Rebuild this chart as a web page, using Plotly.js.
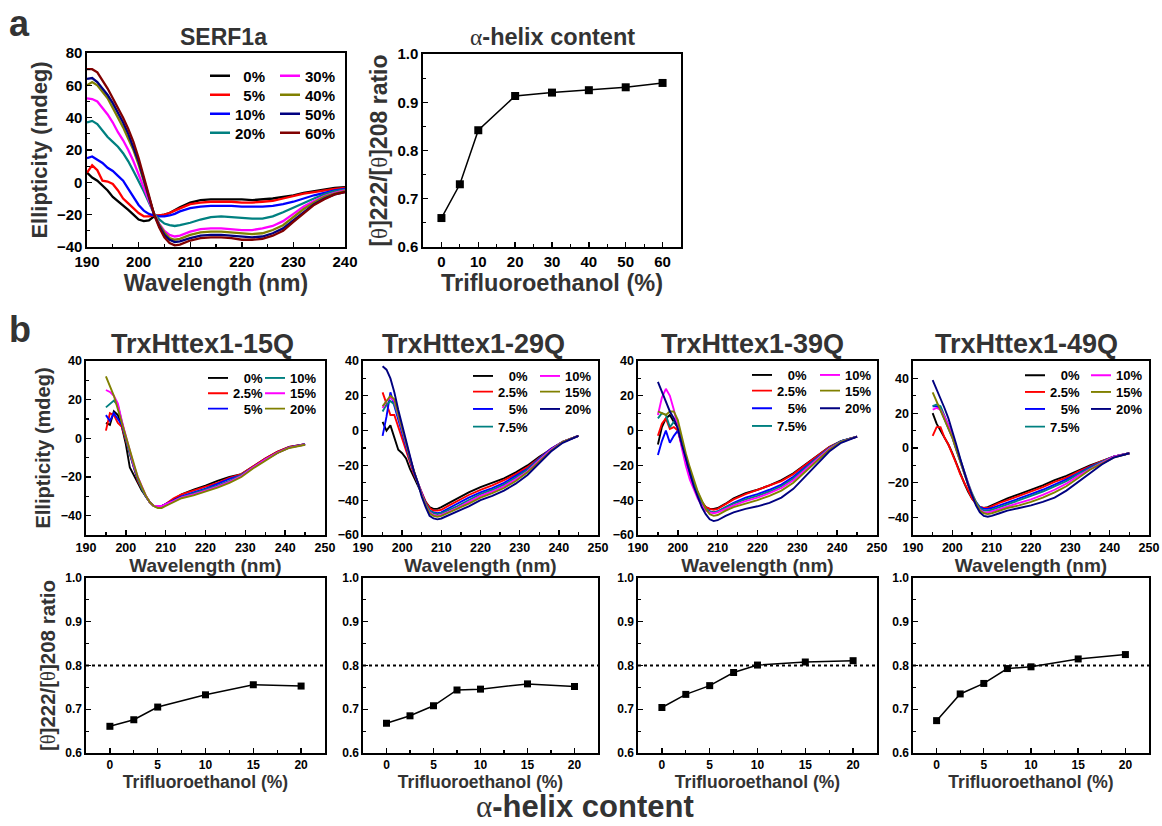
<!DOCTYPE html>
<html><head><meta charset="utf-8">
<script src="https://cdn.plot.ly/plotly-3.0.1.min.js"></script>
<style>html,body{margin:0;padding:0;background:#fff}#chart{width:1162px;height:826px}</style>
</head><body><div id="chart"></div>
<script>
// ---------------- DATA ----------------
// Panel a: SERF1a CD spectra
const serfWavelength = [190,191,192,193,194,195,196,197,198,199,200,201,202,203,204,205,206,207,208,210,212,214,216,218,220,222,224,226,228,230,232,234,236,238,240];
const serf_0  = [6,3,1,-2,-5,-9,-11.5,-14,-17,-20,-23,-24,-23.5,-21,-20.5,-20,-19,-17,-15.5,-12.5,-11,-10.5,-10.5,-10.5,-10.5,-11,-10.5,-10,-9,-8,-6.5,-5.5,-4.5,-3.5,-3];
const serf_5  = [6,10.5,7.5,1,0.5,-1,-5,-10,-13,-16,-19,-21,-21,-20.5,-20.5,-20,-19,-17.5,-16,-13.5,-12.5,-12,-12,-12,-12.5,-12.5,-12,-11.5,-10,-8.5,-7,-6,-5,-4,-3.5];
const serf_10 = [15,16,14,12,9,7,4,1,-4,-9,-14,-17.5,-19.5,-20.5,-21,-21,-20.5,-19.5,-18,-16,-15,-14.5,-14.5,-14.5,-15,-15,-15,-14.5,-13.5,-12,-10,-8,-6.5,-5,-4];
const serf_20 = [37,38,36,32,28,25,22,18,13,7,1,-5.5,-12.5,-19.5,-23,-25.5,-26.5,-27,-26.5,-25,-23,-21.5,-21,-21.5,-22,-22.5,-22.5,-21,-18.5,-15.5,-12.5,-10,-7.5,-5.5,-4.5];
const serf_30 = [52,51.5,50,46,42,37,31,26,20,13,5,-3,-11,-19.5,-25.5,-30,-32.5,-33.5,-33,-30.5,-29,-28.5,-28.5,-29,-29.5,-29.5,-28.5,-27,-24,-19.5,-15,-11.5,-8.5,-6.5,-5];
const serf_40 = [60,62,60,56,52,46,40,34,27,20,11,1,-9,-19.5,-26,-31,-34.5,-35.5,-35,-32.5,-31,-30.5,-30.5,-31,-31.5,-32,-31.5,-29.5,-26.5,-21.5,-16.5,-12.5,-9,-7,-5.5];
const serf_50 = [64,64.5,62,58,54,49,43,37,30,22,13,2,-9,-20,-27,-32.5,-35.5,-37,-36.5,-34.5,-33,-32.5,-32.5,-33,-33.5,-34,-33.5,-31.5,-28.5,-23.5,-18,-13.5,-10,-7.5,-6];
const serf_60 = [70,70,68,63,58,52,46,40,33,25,15,4,-8,-20,-28,-34,-37.5,-39,-38.5,-36,-34.5,-34,-34,-34.5,-35.5,-35.5,-35,-33,-30,-24.5,-19,-14,-10.5,-7.5,-6];
const serfLabels = ['0%','5%','10%','20%','30%','40%','50%','60%'];
const serfTFE   = [0,5,10,20,30,40,50,60];
const serfRatio = [0.66,0.73,0.842,0.913,0.92,0.925,0.931,0.94];

// Panel b: TrxHttex1 CD spectra
const httWavelength = [195,196,197,198,199,200,201,202,203,204,205,206,207,208,209,210,212,214,217,220,223,226,229,232,235,238,241,245];
const q15_0   = [8,7,14,12,6,-3,-15,-19,-23,-27,-30,-33,-35,-35.5,-35,-34,-31.5,-29,-26.5,-24.5,-22,-20,-18.5,-14.5,-10.5,-7,-4.5,-3];
const q15_2p5 = [4,13,12,8,6,-1,-9,-16,-22,-26,-30,-33,-35,-35.5,-35,-34,-31,-29,-27,-25,-23,-20.5,-18.5,-14.5,-10.5,-7,-4.5,-3];
const q15_5   = [12,9,13,10,7,0,-8,-15,-21,-26,-30,-33,-35,-35.5,-35,-34,-32,-30,-28,-26,-23.5,-21,-19,-15,-11,-7.5,-4.7,-3];
const q15_10  = [16,18,19.5,17,8,0,-8,-15,-21,-26,-30,-33,-35,-35.5,-35,-34.5,-32.5,-30.5,-28.5,-26.5,-24.5,-22,-19,-15,-11,-7.5,-4.8,-3.2];
const q15_15  = [25,24,22,18,9,1,-7,-14,-20,-25,-29.5,-33,-35,-35,-35,-34,-32.5,-30.5,-29,-27,-25,-22.5,-19.5,-15,-11,-7.5,-4.8,-3.2];
const q15_20  = [32,27,22,15,8,1,-7,-14,-20,-25,-29.5,-33,-35,-36,-36,-35,-33,-31,-29.5,-27.5,-25.5,-23,-20,-15.5,-11.5,-7.7,-5,-3.3];

const q29_0   = [5,0,3,-4,-11,-13,-16,-22,-27,-32,-37,-41,-44,-45,-45,-44,-41.5,-39,-35.5,-32.5,-30,-27.5,-24,-20,-15,-10.5,-6.5,-3];
const q29_2p5 = [22,15,9,9,2,-5,-12,-19,-25,-30,-36,-41,-44.5,-46,-46,-45.5,-43,-40.5,-37,-34,-31.5,-28.5,-25,-21,-15.5,-10.5,-6.5,-3];
const q29_5   = [-3,8,22,14,6,-1,-9,-17,-24,-30,-37,-42,-46,-47,-47.5,-47,-44.5,-42,-38.5,-35.5,-33,-30,-26,-22,-16,-10.5,-6.5,-3];
const q29_7p5 = [11,15,17,15,8,0,-8,-16,-23.5,-30,-37,-42,-46,-47.5,-48,-47.5,-45.5,-43.5,-40,-36.5,-34,-31,-27,-22.5,-16.5,-11,-6.5,-3];
const q29_10  = [13,17,19,17,9,1,-7,-16,-23.5,-30,-37,-43,-47,-48.5,-49,-48.5,-46.5,-44.5,-41,-37.5,-35,-32,-28,-23.5,-17,-11,-6.5,-3];
const q29_15  = [14,17,20,18,10,2,-7,-16,-23.5,-30,-37,-43,-47.5,-49,-49.5,-49,-47,-45,-42,-38.5,-36,-33,-29,-24,-17.5,-11.5,-6.5,-3];
const q29_20  = [37,35,30,22,12,3,-6,-15,-23.5,-30,-38,-44,-49,-50.5,-51,-50.5,-48.5,-46.5,-43.5,-40,-37.5,-34.5,-30.5,-25.5,-18.5,-12,-7,-3];

const q39_0   = [-8,2,7,9,5,2,-8,-17,-25,-31,-37,-41,-44,-45,-45,-44.5,-42,-39,-36,-34,-31.5,-28.5,-24.5,-19.5,-14.5,-9.5,-6,-3.5];
const q39_2p5 = [-3,4,7,1,2,0,-9,-17,-25,-31,-37,-41,-44,-45,-45.5,-45,-42,-39.5,-36.5,-34,-31.5,-29,-25,-20,-14.5,-9.5,-6,-3.5];
const q39_5   = [-14,-6,0,-7,-3,0,-8,-17,-25,-32,-38,-42,-45,-46.5,-47,-46.5,-44,-41.5,-38.5,-36.5,-34,-31,-26.5,-21,-15,-10,-6,-3.5];
const q39_7p5 = [7,10,9,2,5,4,-6,-15,-23,-30,-36,-41,-45,-46.5,-47,-46.5,-44,-42,-39.5,-37.5,-35,-32,-27.5,-21.5,-15.5,-10,-6,-3.5];
const q39_10  = [9,19,24,20,12,2,-10,-20,-28,-34,-39,-43,-46,-47,-47.5,-47,-45,-43,-40.5,-38.5,-36,-33,-28.5,-22.5,-16,-10.5,-6.5,-3.5];
const q39_15  = [11,10,9,11,11,6,-4,-13,-21,-28,-35,-40,-45,-48,-49,-48.5,-46,-44,-42,-40,-37.5,-34.5,-30,-23.5,-17,-11,-6.5,-3.5];
const q39_20  = [28,22,16,11,7,1,-8,-16,-24,-32,-38,-44,-48,-51,-52,-51.5,-49,-47,-45,-43.5,-41.5,-38.5,-33.5,-26.5,-19,-12,-7,-3.5];

const q49_0   = [20,14,10,6,2,-3,-9,-15,-20,-25,-29,-32,-34,-34.5,-34,-33,-31,-29,-26.5,-24,-21.5,-18.5,-16,-13,-10,-7.5,-5,-3];
const q49_2p5 = [7,12,12,6,2,-3,-9,-15,-20,-25,-29,-32,-34,-34.5,-34.5,-33.5,-31.5,-30,-27.5,-25,-22.5,-19.5,-17,-13.5,-10.5,-7.5,-5,-3];
const q49_5   = [24,24,22,17,12,6,-1,-8,-15,-21,-27,-31,-34,-35,-35,-34.5,-33,-31.5,-29,-26.5,-24,-21,-18,-14.5,-11,-8,-5,-3];
const q49_7p5 = [24,25,24,19,13,7,0,-7,-14,-20,-26,-31,-34.5,-36,-36,-35.5,-34,-32.5,-30,-27.5,-25,-22,-19,-15,-11.5,-8,-5,-3];
const q49_10  = [22,23,22,18,13,7,0,-7,-14,-21,-27,-32,-35.5,-37,-37,-36.5,-35,-33.5,-31.5,-29.5,-27,-24,-20.5,-16,-12,-8.5,-5,-3];
const q49_15  = [32,27,22,17,12,6,-1,-8,-15,-21,-27,-32,-36,-37.5,-38,-37.5,-36,-34.5,-33,-31,-28.5,-25.5,-22,-17,-12.5,-9,-5.5,-3];
const q49_20  = [39,34,29,23,17,10,2,-6,-14,-21,-27,-33,-37,-39,-39.5,-39,-37.5,-36,-34.5,-33,-31,-28.5,-24.5,-19.5,-14,-9.5,-5.5,-3];

const q15Labels = ['0%','2.5%','5%','10%','15%','20%'];
const qLabels   = ['0%','2.5%','5%','7.5%','10%','15%','20%'];

const q15TFE = [0,2.5,5,10,15,20];
const qTFE   = [0,2.5,5,7.5,10,15,20];
const q15Ratio = [0.661,0.676,0.705,0.733,0.756,0.753];
const q29Ratio = [0.668,0.685,0.708,0.744,0.746,0.758,0.752];
const q39Ratio = [0.704,0.734,0.754,0.784,0.801,0.808,0.811];
const q49Ratio = [0.674,0.735,0.759,0.793,0.797,0.815,0.825];
const ratioThreshold = 0.8;

const panelTitles = ['SERF1a','TrxHttex1-15Q','TrxHttex1-29Q','TrxHttex1-39Q','TrxHttex1-49Q'];

// ---------------- STYLE / LAYOUT ----------------
const W = 1162, H = 826;
const FONT = '"Liberation Sans", Arial, sans-serif';
const C = {black:'#000000', red:'#ff0000', blue:'#0000ff', teal:'#008080', magenta:'#ff00ff', olive:'#808000', navy:'#000080', wine:'#800000'};
const serfColors = [C.black,C.red,C.blue,C.teal,C.magenta,C.olive,C.navy,C.wine];
const q15Colors  = [C.black,C.red,C.blue,C.teal,C.magenta,C.olive];
const qColors    = [C.black,C.red,C.blue,C.teal,C.magenta,C.olive,C.navy];
const TITLE_COL = '#333333';

const traces = [];
const layout = {
  width: W, height: H, margin: {l:0, r:0, t:0, b:0},
  paper_bgcolor: '#ffffff', plot_bgcolor: '#ffffff',
  font: {family: FONT, color: '#000'},
  showlegend: true, annotations: [], shapes: []
};

function mkAxis(p0, p1, isX, range, dtick, minorDtick, tickSize, fmt, anchor) {
  const dom = isX ? [p0 / W, p1 / W] : [1 - p1 / H, 1 - p0 / H];
  const ax = {
    domain: dom, range: range, autorange: false, anchor: anchor,
    showline: true, linecolor: '#000', linewidth: 1.6, mirror: true,
    ticks: 'inside', ticklen: 5, tickwidth: 1.4, tickcolor: '#000',
    tick0: 0, dtick: dtick,
    minor: {ticks: 'inside', ticklen: 3, tickwidth: 1.2, tickcolor: '#000', dtick: minorDtick, tick0: 0},
    showgrid: false, zeroline: false, fixedrange: true,
    tickfont: {family: FONT, size: tickSize, weight: 'bold', color: '#000'}
  };
  if (fmt) ax.tickformat = fmt;
  return ax;
}
function axTitle(text, size, standoff) {
  return {text: text, font: {family: FONT, size: size, weight: 'bold', color: TITLE_COL}, standoff: standoff};
}
const thetaTitle = '[<span style="font-family:Liberation Serif;font-weight:normal">θ</span>]222/[<span style="font-family:Liberation Serif;font-weight:normal">θ</span>]208 ratio';
const alphaText = '<span style="font-family:Liberation Serif;font-weight:normal">α</span>-helix content';

// Panel geometry (pixels)
const aLeft  = {x:[87,345],  y:[53,247]};
const aRight = {x:[423,681], y:[54,247]};
const bCols  = [[86,325],[363,598],[638,877],[913,1149]];
const bTopY  = [361,535];
const bBotY  = [578,753];

// axes 1: SERF1a spectra
layout.xaxis  = mkAxis(aLeft.x[0], aLeft.x[1], true,  [190,240], 10, 5, 15, null, 'y');
layout.yaxis  = mkAxis(aLeft.y[0], aLeft.y[1], false, [-40,80], 20, 10, 15, null, 'x');
layout.xaxis.title = axTitle('Wavelength (nm)', 23, 0);
layout.yaxis.title = axTitle('Ellipticity (mdeg)', 22, 3);
// axes 2: SERF1a ratio
layout.xaxis2 = mkAxis(aRight.x[0], aRight.x[1], true,  [-5,65], 10, 5, 15, null, 'y2');
layout.yaxis2 = mkAxis(aRight.y[0], aRight.y[1], false, [0.6,1.0], 0.1, 0.05, 15, '.1f', 'x2');
layout.xaxis2.title = axTitle('Trifluoroethanol (%)', 23.5, 0);
layout.yaxis2.title = axTitle(thetaTitle, 23, 3);

// b axes
const bYRanges = [[-50,40],[-60,40],[-60,40],[-50,50]];
for (let i = 0; i < 4; i++) {
  const t = 3 + i, b = 7 + i;
  layout['xaxis' + t] = mkAxis(bCols[i][0], bCols[i][1], true, [190,250], 10, 5, 12.5, null, 'y' + t);
  layout['yaxis' + t] = mkAxis(bTopY[0], bTopY[1], false, bYRanges[i], 20, 10, 12.5, null, 'x' + t);
  layout['xaxis' + t].title = axTitle('Wavelength (nm)', 19, 1);
  layout['xaxis' + b] = mkAxis(bCols[i][0], bCols[i][1], true, [-2.5,22.5], 5, 2.5, 12, null, 'y' + b);
  layout['yaxis' + b] = mkAxis(bBotY[0], bBotY[1], false, [0.6,1.0], 0.1, 0.05, 12, '.1f', 'x' + b);
  layout['xaxis' + b].title = axTitle('Trifluoroethanol (%)', 17.5, 3);
  layout.shapes.push({type:'line', xref:'x' + b + ' domain', x0:0, x1:1, yref:'y' + b, y0:ratioThreshold, y1:ratioThreshold,
    line:{color:'#000', width:2, dash:'dot'}});
}
layout.yaxis3.title = axTitle('Ellipticity (mdeg)', 20, 4);
layout.yaxis7.title = axTitle(thetaTitle, 20.5, 4);

// legends: one legend per entry so the two-column Origin-style legend can be reproduced
let legendCount = 0;
function addLegend(lineEndPx, rowYPx, fontSize) {
  legendCount++;
  const key = legendCount === 1 ? 'legend' : 'legend' + legendCount;
  layout[key] = {
    x: (lineEndPx - 35) / W, y: 1 - rowYPx / H, xanchor: 'left', yanchor: 'middle',
    bgcolor: 'rgba(0,0,0,0)', borderwidth: 0, tracegroupgap: 0,
    font: {family: FONT, size: fontSize, weight: 'bold', color: '#000'},
    itemclick: false, itemdoubleclick: false
  };
  return key;
}
function padLabel(lbl, width) {
  // right-align the first legend column with figure / punctuation spaces
  let pad = '';
  const digits = lbl.replace(/[^0-9]/g, '').length, dot = lbl.includes('.') ? 1 : 0;
  for (let k = digits; k < width.d; k++) pad += '\u2007';
  for (let k = dot; k < width.p; k++) pad += '\u2008';
  return pad + lbl;
}

// Legend placements (pixels): row centres and line end of each column
const legA = {rows:[76,95,114,133], cols:[230,300], font:15, width:{d:2,p:0}};
const legB = [
  {rows:[378,393.3,408.7], cols:[228,285], font:13, width:{d:2,p:1}},
  {rows:[376,391.7,409,426.7], cols:[493,560], font:13, width:{d:2,p:1}},
  {rows:[375,390.7,408.3,426], cols:[772,840], font:13, width:{d:2,p:1}},
  {rows:[375.3,392,409,426.7], cols:[1045,1111], font:13, width:{d:2,p:1}}
];

// SERF1a spectra
const serfSeries = [serf_0, serf_5, serf_10, serf_20, serf_30, serf_40, serf_50, serf_60];
serfSeries.forEach((ys, i) => {
  const col = i < 4 ? 0 : 1, row = i % 4;
  traces.push({type:'scatter', mode:'lines', x:serfWavelength, y:ys, xaxis:'x', yaxis:'y',
    name: col === 0 ? padLabel(serfLabels[i], legA.width) : serfLabels[i],
    line:{color:serfColors[i], width:2.3},
    legend: addLegend(legA.cols[col], legA.rows[row], legA.font)});
});
traces.push({type:'scatter', mode:'lines+markers', x:serfTFE, y:serfRatio, xaxis:'x2', yaxis:'y2', showlegend:false,
  line:{color:'#000', width:1.5}, marker:{symbol:'square', size:8, color:'#000'}});

// TrxHttex1 spectra
const bSeries = [
  {ys:[q15_0,q15_2p5,q15_5,q15_10,q15_15,q15_20], labels:q15Labels, colors:q15Colors, split:3, tfe:q15TFE, ratio:q15Ratio},
  {ys:[q29_0,q29_2p5,q29_5,q29_7p5,q29_10,q29_15,q29_20], labels:qLabels, colors:qColors, split:4, tfe:qTFE, ratio:q29Ratio},
  {ys:[q39_0,q39_2p5,q39_5,q39_7p5,q39_10,q39_15,q39_20], labels:qLabels, colors:qColors, split:4, tfe:qTFE, ratio:q39Ratio},
  {ys:[q49_0,q49_2p5,q49_5,q49_7p5,q49_10,q49_15,q49_20], labels:qLabels, colors:qColors, split:4, tfe:qTFE, ratio:q49Ratio}
];
bSeries.forEach((p, pi) => {
  const t = 3 + pi, b = 7 + pi, lg = legB[pi];
  p.ys.forEach((ys, i) => {
    const col = i < p.split ? 0 : 1, row = col === 0 ? i : i - p.split;
    traces.push({type:'scatter', mode:'lines', x:httWavelength, y:ys, xaxis:'x' + t, yaxis:'y' + t,
      name: col === 0 ? padLabel(p.labels[i], lg.width) : p.labels[i],
      line:{color:p.colors[i], width:1.9},
      legend: addLegend(lg.cols[col], lg.rows[row], lg.font)});
  });
  traces.push({type:'scatter', mode:'lines+markers', x:p.tfe, y:p.ratio, xaxis:'x' + b, yaxis:'y' + b, showlegend:false,
    line:{color:'#000', width:1.5}, marker:{symbol:'square', size:7, color:'#000'}});
});

// Titles / panel letters
function ann(text, xPx, yPx, size, extra) {
  layout.annotations.push(Object.assign({text:text, xref:'paper', yref:'paper', x:xPx / W, y:1 - yPx / H,
    xanchor:'center', yanchor:'middle', showarrow:false,
    font:{family:FONT, size:size, weight:'bold', color:TITLE_COL}}, extra || {}));
}
ann('a', 19, 24, 36);
ann('b', 20, 330, 36);
ann(panelTitles[0], 223, 37.5, 23);
ann(alphaText, 552, 37, 23.5);
const bTitleX = [202, 473, 752, 1026];
for (let i = 0; i < 4; i++) ann(panelTitles[i + 1], bTitleX[i], 344, 27);
ann(alphaText, 585, 806, 31);

Plotly.newPlot('chart', traces, layout, {staticPlot:true, displayModeBar:false}).then(function () {
  // Origin-style legends use a shorter line sample (about 20 px) ending just before the label
  document.querySelectorAll('#chart .legendlines path').forEach(function (p) {
    p.setAttribute('d', 'M15,0h20');
  });
});
</script>
</body></html>
